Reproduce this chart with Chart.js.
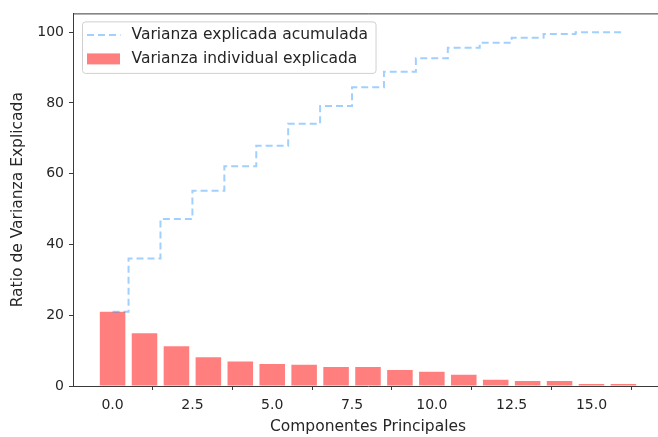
<!DOCTYPE html>
<html>
<head>
<meta charset="UTF-8">
<title>Varianza explicada</title>
<script src="https://cdn.jsdelivr.net/npm/chart.js"></script>
<style>
body{margin:0; overflow:hidden; background:#fff;}
#wrap{width:672px; height:437px;}
</style>
</head>
<body>
<div id="wrap"><canvas id="myChart" width="672" height="437"></canvas></div>
<script>
// datos
var componentes = [0, 1, 2, 3, 4, 5, 6, 7, 8, 9, 10, 11, 12, 13, 14, 15, 16];
var varianzaIndividual = [21.0, 14.9, 11.2, 8.1, 6.9, 6.2, 6.0, 5.4, 5.4, 4.5, 4.0, 3.2, 1.8, 1.4, 1.4, 0.6, 0.6];
var varianzaAcumulada = [21.0, 36.0, 47.2, 55.2, 62.1, 67.9, 74.1, 79.1, 84.4, 88.8, 92.6, 95.6, 97.0, 98.4, 99.5, 100, 100];
var xTicks = [0, 2.5, 5, 7.5, 10, 12.5, 15];
var yTicks = [0, 20, 40, 60, 80, 100];

var texto = '#262626';
var eje = '#3a3a3a';
Chart.defaults.font.family = "'DejaVu Sans', sans-serif";

var puntosBar = [];
var puntosLinea = [];
for (let i = 0; i < componentes.length; i++) {
	puntosBar.push({x: componentes[i], y: varianzaIndividual[i]});
	puntosLinea.push({x: componentes[i], y: varianzaAcumulada[i]});
}

// marco arriba y a la derecha (como matplotlib)
var marco = {
	id: 'marco',
	afterDraw: function(chart) {
		var c = chart.ctx, a = chart.chartArea;
		c.save();
		c.strokeStyle = eje;
		c.lineWidth = 1;
		c.beginPath();
		c.moveTo(a.left, a.top + 0.5);
		c.lineTo(a.right + 0.5, a.top + 0.5);
		c.lineTo(a.right + 0.5, a.bottom);
		c.stroke();
		c.restore();
	}
};

// leyenda dentro del area
var leyenda = {
	id: 'leyenda',
	afterDraw: function(chart) {
		var c = chart.ctx, a = chart.chartArea;
		var ds = chart.data.datasets;
		c.save();
		c.font = "15.5px 'DejaVu Sans'";
		var w = 0;
		ds.forEach(function(d){ w = Math.max(w, c.measureText(d.label).width); });
		var x0 = a.left + 9.5, y0 = a.top + 8.5;
		var bw = 49 + w + 8, bh = 51.5;
		c.beginPath();
		c.roundRect(x0, y0, bw, bh, 3);
		c.fillStyle = 'rgba(255,255,255,0.8)';
		c.fill();
		c.strokeStyle = '#d0d0d0';
		c.lineWidth = 1;
		c.stroke();
		// linea
		c.beginPath();
		c.setLineDash([7, 4]);
		c.strokeStyle = ds[0].borderColor;
		c.lineWidth = 2;
		c.moveTo(x0 + 4.5, y0 + 13);
		c.lineTo(x0 + 38, y0 + 13);
		c.stroke();
		c.setLineDash([]);
		// barra
		c.fillStyle = ds[1].backgroundColor;
		c.fillRect(x0 + 4.5, y0 + 31.5, 33, 11);
		c.fillStyle = texto;
		c.textBaseline = 'middle';
		c.fillText(ds[0].label, x0 + 49, y0 + 13.5);
		c.fillText(ds[1].label, x0 + 49, y0 + 37);
		c.restore();
	}
};

var ctx = document.getElementById('myChart');
new Chart(ctx, {
	type: 'bar',
	data: {
		datasets: [{
			type: 'line',
			label: 'Varianza explicada acumulada',
			data: puntosLinea,
			stepped: 'middle',
			borderColor: 'rgba(30,144,255,0.42)',
			borderDash: [7, 4],
			borderWidth: 2,
			pointRadius: 0,
			fill: false,
			order: 0
		}, {
			type: 'bar',
			label: 'Varianza individual explicada',
			data: puntosBar,
			backgroundColor: 'rgba(255,0,0,0.5)',
			borderWidth: 0,
			barPercentage: 0.8,
			categoryPercentage: 1,
			order: 1
		}]
	},
	options: {
		responsive: false,
		animation: false,
		layout: {padding: {top: 11, right: 9, left: 0, bottom: 0}},
		plugins: {legend: {display: false}, tooltip: {enabled: false}},
		scales: {
			x: {
				type: 'linear',
				min: -1.24,
				max: 17.24,
				offset: false,
				afterBuildTicks: function(s){ s.ticks = xTicks.map(function(v){ return {value: v}; }); },
				afterFit: function(s){ s.height = 51; },
				ticks: {
					callback: function(v){ return v.toFixed(1); },
					font: {size: 14}, color: texto, padding: 7, maxRotation: 0, autoSkip: false
				},
				grid: {drawOnChartArea: false, tickLength: 4, color: eje},
				border: {color: eje},
				title: {display: true, text: 'Componentes Principales', font: {size: 15.5}, color: texto, padding: {top: 1, bottom: 1}}
			},
			y: {
				min: 0,
				max: 105.3,
				afterBuildTicks: function(s){ s.ticks = yTicks.map(function(v){ return {value: v}; }); },
				afterFit: function(s){ s.width = 73; },
				ticks: {font: {size: 14}, color: texto, padding: 5},
				grid: {drawOnChartArea: false, tickLength: 4, color: eje},
				border: {color: eje},
				title: {display: true, text: 'Ratio de Varianza Explicada', font: {size: 15.5}, color: texto, padding: {top: 9, bottom: 0}}
			}
		}
	},
	plugins: [marco, leyenda]
});
</script>
</body>
</html>
